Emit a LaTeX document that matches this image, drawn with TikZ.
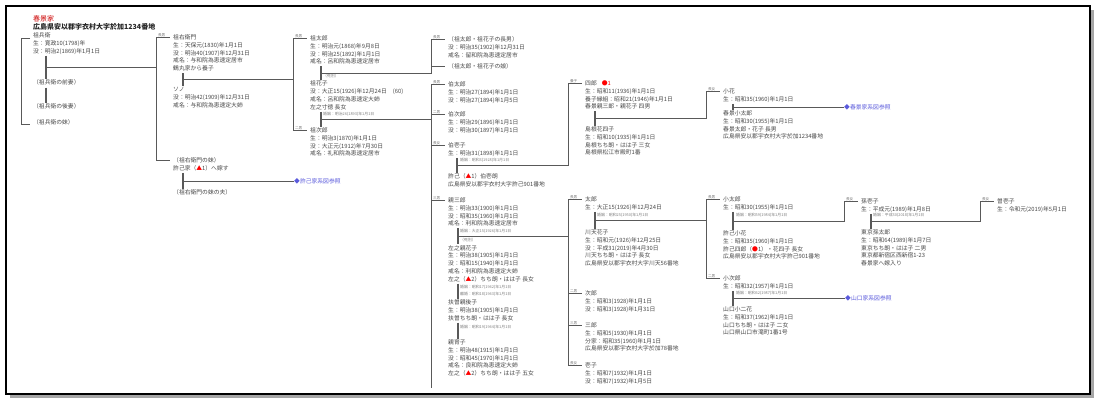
\documentclass[tikz,border=0pt]{standalone}
\usepackage{fontspec}
\setmainfont{Noto Sans CJK JP}
\usetikzlibrary{calc,positioning}

\definecolor{refblue}{RGB}{90,90,220}
\newcommand{\pv}[1]{\begin{tabular}[t]{@{}l@{}}#1\end{tabular}}
\newcommand{\mk}[1]{{\color{red}#1}}
\newcommand{\wed}[4][10pt]{%
  \draw[wedbar] ([xshift=#1]#2.south west) -- ([xshift=#1]#3.north west);
  \coordinate (#4) at ($(#2.south west)!.5!(#3.north west)+(#1,0)$);}
\newcommand{\kid}[3]{%
  \draw[ln] (#1) -| ([xshift=-17pt,yshift=2.2pt]#2.base west) -- ([xshift=-3pt,yshift=2.2pt]#2.base west) node[rel, pos=0.1]{#3};}

\tikzset{
  pp/.style={anchor=base west, inner sep=0pt, font=\fontsize{5.8}{7.8}\selectfont, text=black!72},
  rel/.style={anchor=south west, inner sep=0.3pt, font=\fontsize{3.6}{4}\selectfont, text=black!55},
  note/.style={anchor=west, inner sep=0pt, font=\fontsize{3.9}{4.5}\selectfont, text=black!50},
  xref/.style={anchor=west, inner sep=0pt, font=\fontsize{5.8}{7}\selectfont, text=refblue},
  ln/.style={draw=black!65, line width=0.6pt},
  wedbar/.style={draw=black!65, line width=1.7pt},
}

\begin{document}
\begin{tikzpicture}[x=1pt, y=-1pt]
    \useasboundingbox (0,0) rectangle (1098,401);
    \fill[black!35] (10,10) rectangle (1094,398);
    \filldraw[fill=white, draw=black, line width=1.2pt] (6,6) rectangle (1090,394);

    \node[pp, font=\fontsize{7}{8}\selectfont, text=red!80!black] (ie) at (33,21.5) {春景家};
    \node[pp, font=\bfseries\fontsize{7}{8}\selectfont, text=black!85] (honseki) at (33,29.5) {広島県安以郡宇衣村大字於加1234番地};

    \node[pp] (sohei) at (33,37.5) {\pv{祖兵衛\\生：寛政10(1798)年\\没：明治2(1869)年1月1日}};
    \node[pp] (zensai) at (33,85) {\pv{（祖兵衛の前妻）}};
    \node[pp] (gosai) at (33,108.5) {\pv{（祖兵衛の後妻）}};
    \node[pp] (sohimo) at (33,124.5) {\pv{（祖兵衛の妹）}};
    \wed[13pt]{sohei}{zensai}{m-sohei}
    \wed[13pt]{zensai}{gosai}{m-gosai}
    \draw[ln] ([xshift=-3pt,yshift=-1pt]sohei.base west) -| ([xshift=-12pt]sohimo.base west) -- ([xshift=-3pt]sohimo.base west);

    \node[pp] (soemon) at (173,39.5) {\pv{祖右衛門\\生：天保元(1830)年1月1日\\没：明治40(1907)年12月31日\\戒名：与和院為恵速定居市\\鶴丸家から養子}};
    \node[pp] (sono) at (173,91.5) {\pv{ソノ\\没：明治42(1909)年12月31日\\戒名：与和院為恵速定大姉}};
    \node[pp] (soeimo) at (173,162.5) {\pv{（祖右衛門の妹）\\許己家（\mk{▲}1）へ嫁す}};
    \node[pp] (soeotto) at (173,194.5) {\pv{（祖右衛門の妹の夫）}};
    \wed{soemon}{sono}{m-soemon}
    \wed{soeimo}{soeotto}{m-soeimo}
    \node[xref, right=111pt of m-soeimo] (ref-koki) {◆許己家系図参照};
    \draw[ln] (m-soeimo) -- (ref-koki.west);
    \kid{m-sohei}{soemon}{長男}
    \kid{m-sohei}{soeimo}{}

    \node[pp] (sotaro) at (310,40.5) {\pv{祖太郎\\生：明治元(1868)年9月8日\\没：明治25(1892)年1月1日\\戒名：呂和院為恵速定居市}};
    \node[pp] (sohanako) at (310,86) {\pv{祖花子\\没：大正15(1926)年12月24日\hspace{6pt}(60)\\戒名：呂和院為恵速定大姉\\左之寸徳 長女}};
    \node[pp] (sojiro) at (310,132.5) {\pv{祖次郎\\生：明治3(1870)年1月1日\\没：大正元(1912)年7月30日\\戒名：礼和院為恵速定居市}};
    \wed[11pt]{sotaro}{sohanako}{m-sotaro}
    \wed[11pt]{sohanako}{sojiro}{m-sohanako}
    \node[note] at (323,76) {（死別）};
    \node[note] at (323,114.5) {婚姻：明治26(1893)年1月1日};
    \kid{m-soemon}{sotaro}{長男}
    \kid{m-soemon}{sojiro}{二男}

    \node[pp] (chonan) at (448,41.5) {\pv{（祖太郎・祖花子の長男）\\没：明治35(1902)年12月31日\\戒名：留和院為恵速定居市}};
    \node[pp] (musume) at (448,69) {\pv{（祖太郎・祖花子の娘）}};
    \kid{m-sotaro}{chonan}{長男}
    \kid{m-sotaro}{musume}{}

    \node[pp] (hakutaro) at (448,86.5) {\pv{伯太郎\\生：明治27(1894)年1月1日\\没：明治27(1894)年1月5日}};
    \node[pp] (hakujiro) at (448,116.5) {\pv{伯次郎\\生：明治29(1896)年1月1日\\没：明治30(1897)年1月1日}};
    \node[pp] (hakuichi) at (448,147.5) {\pv{伯壱子\\生：明治31(1898)年1月1日}};
    \node[pp] (hakuichiro) at (448,178.5) {\pv{許己（\mk{▲}1）伯壱朗\\広島県安以郡宇衣村大字許己901番地}};
    \wed[9pt]{hakuichi}{hakuichiro}{m-hakuichi}
    \node[note] at (460,160.5) {婚姻：昭和3(1928)年1月1日};

    \node[pp] (shinsaburo) at (448,202.5) {\pv{親三郎\\生：明治33(1900)年1月1日\\没：昭和35(1960)年1月1日\\戒名：利和院為恵速定居市}};
    \node[pp] (shinhanako) at (448,250) {\pv{左之親花子\\生：明治38(1905)年1月1日\\没：昭和15(1940)年1月1日\\戒名：利和院為恵速定大姉\\左之（\mk{▲}2）ちち朗・はは子 長女}};
    \node[pp] (shingoko) at (448,304.5) {\pv{扶曽親後子\\生：明治38(1905)年1月1日\\扶曽ちち朗・はは子 長女}};
    \node[pp] (shinikuko) at (448,344.5) {\pv{親育子\\生：明治48(1915)年1月1日\\没：昭和45(1970)年1月1日\\戒名：良和院為恵速定大姉\\左之（\mk{▲}2）ちち朗・はは子 五女}};
    \wed{shinsaburo}{shinhanako}{m-shin}
    \wed{shinhanako}{shingoko}{m-shin2}
    \wed{shingoko}{shinikuko}{m-shin3}
    \node[note] at (460,231.5) {婚姻：大正15(1926)年1月1日};
    \node[note] at (460,240) {（死別）};
    \node[note] at (460,287.5) {婚姻：昭和17(1942)年1月1日};
    \node[note] at (460,294.5) {離婚：昭和18(1943)年1月1日};
    \node[note] at (460,327) {婚姻：昭和19(1944)年1月1日};
    \kid{m-sohanako}{hakutaro}{長男}
    \kid{m-sohanako}{hakujiro}{二男}
    \kid{m-sohanako}{hakuichi}{長女}
    \kid{m-sohanako}{shinsaburo}{三男}
    \draw[ln] ([xshift=-17pt,yshift=2.2pt]shinsaburo.base west) -- ++(0,188);

    \node[pp] (shiro) at (585,85.5) {\pv{四郎\hspace{5pt}\mk{●1}\\生：昭和11(1936)年1月1日\\養子縁組：昭和21(1946)年1月1日\\春景親三郎・親花子 四男}};
    \node[pp] (shimane) at (585,131.5) {\pv{島根花四子\\生：昭和10(1935)年1月1日\\島根ちち朗・はは子 三女\\島根県松江市殿町1番}};
    \wed{shiro}{shimane}{m-shiro}
    \kid{m-hakuichi}{shiro}{養子}

    \node[pp] (taro) at (585,201.5) {\pv{太郎\\生：大正15(1926)年12月24日}};
    \node[pp] (kawaten) at (585,234.5) {\pv{川天花子\\生：昭和元(1926)年12月25日\\没：平成31(2019)年4月30日\\川天ちち朗・はは子 長女\\広島県安以郡宇衣村大字川天56番地}};
    \wed{taro}{kawaten}{m-taro}
    \node[note] at (597,215.5) {婚姻：昭和25(1950)年1月1日};
    \node[pp] (jiro) at (585,295.5) {\pv{次郎\\生：昭和3(1928)年1月1日\\没：昭和3(1928)年1月31日}};
    \node[pp] (saburo) at (585,327.5) {\pv{三郎\\生：昭和5(1930)年1月1日\\分家：昭和35(1960)年1月1日\\広島県安以郡宇衣村大字於加78番地}};
    \node[pp] (ichiko) at (585,367.5) {\pv{壱子\\生：昭和7(1932)年1月1日\\没：昭和7(1932)年1月5日}};
    \kid{m-shin}{taro}{長男}
    \kid{m-shin}{jiro}{二男}
    \kid{m-shin}{saburo}{三男}
    \kid{m-shin}{ichiko}{長女}

    \node[pp] (kohana) at (723,93.5) {\pv{小花\\生：昭和35(1960)年1月1日}};
    \node[pp] (kotaroh) at (723,115.5) {\pv{春景小太郎\\生：昭和30(1955)年1月1日\\春景太郎・花子 長男\\広島県安以郡宇衣村大字於加1234番地}};
    \wed{kohana}{kotaroh}{m-kohana}
    \node[xref, right=111pt of m-kohana] (ref-harukage) {◆春景家系図参照};
    \draw[ln] (m-kohana) -- (ref-harukage.west);
    \kid{m-shiro}{kohana}{長女}

    \node[pp] (kotaro) at (723,201.5) {\pv{小太郎\\生：昭和30(1955)年1月1日}};
    \node[pp] (kohana2) at (723,235.5) {\pv{許己小花\\生：昭和35(1960)年1月1日\\許己四郎（\mk{●}1）・花四子 長女\\広島県安以郡宇衣村大字許己901番地}};
    \wed{kotaro}{kohana2}{m-kotaro}
    \node[note] at (736,215.5) {婚姻：昭和59(1984)年1月1日};
    \node[pp] (kojiro) at (723,280.5) {\pv{小次郎\\生：昭和32(1957)年1月1日}};
    \node[pp] (yamaguchi) at (723,311.5) {\pv{山口小二花\\生：昭和37(1962)年1月1日\\山口ちち朗・はは子 二女\\山口県山口市滝町1番1号}};
    \wed{kojiro}{yamaguchi}{m-kojiro}
    \node[note] at (736,293.5) {婚姻：昭和62(1987)年1月1日};
    \node[xref, right=112pt of m-kojiro] (ref-yamaguchi) {◆山口家系図参照};
    \draw[ln] (m-kojiro) -- (ref-yamaguchi.west);
    \kid{m-taro}{kotaro}{長男}
    \kid{m-taro}{kojiro}{二男}

    \node[pp] (magoichi) at (861,203.5) {\pv{孫壱子\\生：平成元(1989)年1月8日}};
    \node[pp] (tokyo) at (861,234.5) {\pv{東京孫太郎\\生：昭和64(1989)年1月7日\\東京ちち朗・はは子 二男\\東京都新宿区西新宿1-23\\春景家へ嫁入り}};
    \wed{magoichi}{tokyo}{m-mago}
    \node[note] at (873,215.5) {婚姻：平成30(2018)年1月1日};
    \kid{m-kotaro}{magoichi}{長女}

    \node[pp] (soichi) at (997,203.5) {\pv{曽壱子\\生：令和元(2019)年5月1日}};
    \kid{m-mago}{soichi}{長女}
\end{tikzpicture}
\end{document}
